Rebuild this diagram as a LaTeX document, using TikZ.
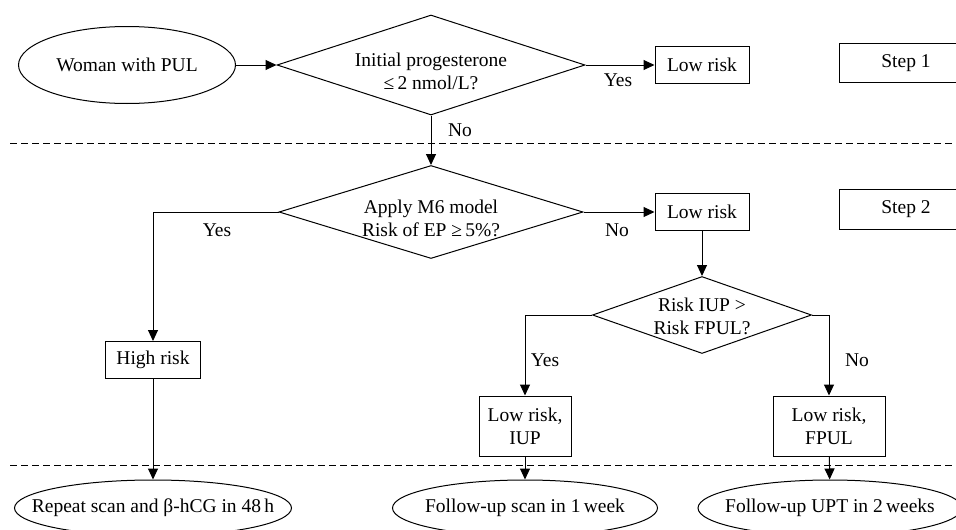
\documentclass[tikz,border=0pt]{standalone}
\usepackage{fontspec}
\setmainfont{Liberation Serif}
\usetikzlibrary{arrows.meta,shapes.geometric}

\tikzset{
  box/.style={draw,rectangle,align=center,inner sep=2pt},
  oval/.style={draw,ellipse,inner sep=0pt,minimum height=56pt},
  decision/.style={draw,diamond,inner sep=0pt},
  question/.style={align=center,yshift=#1},
  rule/.style={dash pattern=on 7pt off 4pt},
}

\begin{document}
\begin{tikzpicture}[x=1pt,y=-1pt,line width=1pt,font=\fontsize{19.5}{23}\selectfont]
\useasboundingbox (0,0) rectangle (956,530);
\begin{scope}[>={Triangle[length=11pt,width=10pt]}]
    \draw[rule] (10,143) -- (956,143);
    \draw[rule] (10,465) -- (956,465);

    % step 1
    \node[oval,minimum width=217pt,minimum height=77pt] (woman) at (127,65) {Woman with PUL};
    \node[decision,minimum width=308pt,minimum height=100pt,
          label={[question=-6pt]center:Initial progesterone\\≤\,2 nmol/L?}] (prog) at (431,65) {};
    \node[box,minimum width=94pt,minimum height=37pt] (low1) at (702,65) {Low risk};
    \node[box,minimum width=134pt,minimum height=39pt] (step1) at (906,63) {Step 1};

    \draw[->] (woman) -- (prog);
    \draw[->] (prog) -- (low1);
    \node (yes1) at (618,80) {Yes};

    % step 2
    \node[decision,minimum width=304pt,minimum height=93pt,
          label={[question=-6pt]center:Apply M6 model\\Risk of EP ≥\,5\%?}] (m6) at (431,212) {};
    \node[box,minimum width=94pt,minimum height=37pt] (low2) at (702,212) {Low risk};
    \node[box,minimum width=134pt,minimum height=40pt] (step2) at (906,209) {Step 2};
    \node[decision,minimum width=219pt,minimum height=77pt,
          label={[question=-1pt]center:Risk IUP >\\Risk FPUL?}] (iupfp) at (702,315) {};

    \draw[->] (prog) -- (m6);
    \node (no1) at (460,130) {No};
    \draw[->] (m6) -- (low2);
    \node (no2) at (617,230) {No};
    \draw[->] (low2) -- (iupfp);

    \node[box,minimum width=95pt,minimum height=37pt] (high) at (153,360) {High risk};
    \node[box,minimum width=92pt,minimum height=60pt] (iup) at (525,426) {Low risk,\\IUP};
    \node[box,minimum width=112pt,minimum height=60pt] (fpul) at (829,426) {Low risk,\\FPUL};

    \draw[->] (m6.west) -| (high.north);
    \node (yes2) at (217,230) {Yes};
    \draw[->] (iupfp.west) -| (iup.north);
    \node (yes3) at (545,360) {Yes};
    \draw[->] (iupfp.east) -| (fpul.north);
    \node (no3) at (857,360) {No};

    % outcomes
    \node[oval,minimum width=277pt] (repeat) at (153,508)
         {\makebox[120pt]{Repeat scan and β-hCG in 48\,h}};
    \node[oval,minimum width=265pt] (fu1) at (525,508)
         {\makebox[120pt]{Follow-up scan in 1\,week}};
    \node[oval,minimum width=264pt] (fu2) at (830,508)
         {\makebox[120pt]{Follow-up UPT in 2\,weeks}};

    \draw[->] (high) -- (repeat);
    \draw[->] (iup) -- (fu1);
    \draw[->] (fpul) -- (fu2);
\end{scope}
\end{tikzpicture}
\end{document}
